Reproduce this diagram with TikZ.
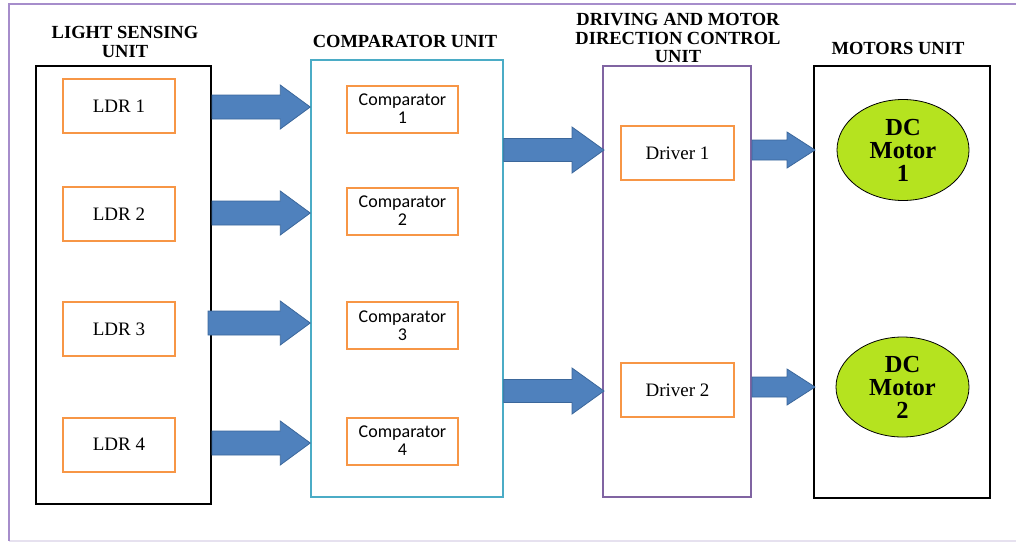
\documentclass[tikz,border=0pt]{standalone}
\usepackage{fontspec}
\setmainfont{Liberation Serif}
\newfontfamily\labelsans{Carlito}
\newfontfamily\labelserif{Liberation Serif}
\usetikzlibrary{calc,shapes.geometric}

\definecolor{frameviolet}{HTML}{A68DCB}
\definecolor{framefaint}{HTML}{E6E1EF}
\definecolor{unitcyan}{HTML}{4BACC6}
\definecolor{unitviolet}{HTML}{8064A2}
\definecolor{itemorange}{HTML}{F79646}
\definecolor{arrowblue}{HTML}{4F81BD}
\definecolor{arrowedge}{HTML}{3B679B}
\definecolor{motorgreen}{HTML}{B5E31F}

% wide block arrow from #1 to the x of #2, at the height of #1
\newcommand{\blockarrow}[5]{%
  \path[fatarrow] let \p1=(#1), \p2=(#2) in
    (\x1,{\y1+#3}) -- ({\x2-#5},{\y1+#3}) -- ({\x2-#5},{\y1+#4}) -- (\x2,\y1)
    -- ({\x2-#5},{\y1-#4}) -- ({\x2-#5},{\y1-#3}) -- (\x1,{\y1-#3}) -- cycle;}

\begin{document}
\begin{tikzpicture}[x=1pt,y=-1pt,
  unitbox/.style={draw, line width=2pt, minimum width=#1, inner sep=0pt},
  itembox/.style={draw=itemorange, line width=2pt, fill=white, inner sep=0pt, align=center},
  title/.style={font=\labelserif\fontsize{18.5}{18.5}\selectfont\bfseries, align=center},
  ldrtext/.style={font=\labelserif\fontsize{19}{19}\selectfont},
  cmptext/.style={font=\labelsans\fontsize{18}{18}\selectfont},
  motor/.style={ellipse, draw=black, line width=0.8pt, fill=motorgreen, inner sep=0pt,
    align=center, font=\labelserif\fontsize{24.5}{23}\selectfont\bfseries},
  fatarrow/.style={fill=arrowblue, draw=arrowedge, line width=0.8pt, line join=miter}]

\useasboundingbox (0,0) rectangle (1016,544);

% outer frame
\draw[framefaint, line width=2pt] (9,541) -- (1030,541);
\draw[frameviolet, line width=2pt] (1030,4) -- (9,4) -- (9,541);

% unit boxes
\node[unitbox=175pt, draw=black, minimum height=438pt] (lsu) at (123.5,285) {};
\node[unitbox=192pt, draw=unitcyan, line width=1.5pt, minimum height=437pt] (cmu) at (407,278.5) {};
\node[unitbox=148pt, draw=unitviolet, minimum height=431pt] (dru) at (677,281.5) {};
\node[unitbox=176pt, draw=black, minimum height=432pt] (mtu) at (902,282) {};

% unit titles
\node[title] (tlsu) at (125,42) {LIGHT SENSING\\UNIT};
\node[title] (tcmu) at (405,41) {COMPARATOR UNIT};
\node[title] (tdru) at (678,38) {DRIVING AND MOTOR\\DIRECTION CONTROL\\UNIT};
\node[title] (tmtu) at (898,48) {MOTORS UNIT};

% sensors
\node[itembox, ldrtext, minimum width=112pt, minimum height=54pt] (ldr1) at (119,106) {LDR 1};
\node[itembox, ldrtext, minimum width=112pt, minimum height=54pt] (ldr2) at (119,214) {LDR 2};
\node[itembox, ldrtext, minimum width=112pt, minimum height=54pt] (ldr3) at (119,329) {LDR 3};
\node[itembox, ldrtext, minimum width=112pt, minimum height=54pt] (ldr4) at (119,444.5) {LDR 4};

% comparators
\node[itembox, cmptext, minimum width=111pt, minimum height=47pt] (cmp1) at (402.5,109) {Comparator\\1};
\node[itembox, cmptext, minimum width=111pt, minimum height=47pt] (cmp2) at (402.5,211) {Comparator\\2};
\node[itembox, cmptext, minimum width=111pt, minimum height=47pt] (cmp3) at (402.5,325.5) {Comparator\\3};
\node[itembox, cmptext, minimum width=111pt, minimum height=47pt] (cmp4) at (402.5,441) {Comparator\\4};

% drivers
\node[itembox, ldrtext, minimum width=113pt, minimum height=54pt] (drv1) at (677.5,153) {Driver 1};
\node[itembox, ldrtext, minimum width=113pt, minimum height=54pt] (drv2) at (677.5,390) {Driver 2};

% motors
\node[motor, minimum width=132pt, minimum height=101pt] (m1) at (903,150) {DC\\Motor\\1};
\node[motor, minimum width=133pt, minimum height=100pt] (m2) at (902.5,387) {DC\\Motor\\2};

% arrow anchor points
\coordinate (a1) at (lsu.east |- 0,107);
\coordinate (a2) at (lsu.east |- 0,213);
\coordinate (a3) at ([xshift=-4pt]lsu.east |- 0,323);
\coordinate (a4) at (lsu.east |- 0,443);
\coordinate (b1) at (cmu.east |- 0,150);
\coordinate (b2) at (cmu.east |- 0,391);
\coordinate (c1) at (dru.east |- 0,150);
\coordinate (c2) at (dru.east |- 0,387);

% sensors -> comparators
\blockarrow{a1}{cmu.west}{12pt}{22pt}{30pt}
\blockarrow{a2}{cmu.west}{12pt}{22pt}{30pt}
\blockarrow{a3}{cmu.west}{12pt}{22pt}{30pt}
\blockarrow{a4}{cmu.west}{12pt}{22pt}{30pt}

% comparators -> drivers
\blockarrow{b1}{[xshift=2pt]dru.west}{11.5pt}{23pt}{32pt}
\blockarrow{b2}{[xshift=2pt]dru.west}{11.5pt}{23pt}{32pt}

% drivers -> motors
\blockarrow{c1}{[xshift=2pt]mtu.west}{10pt}{18pt}{28pt}
\blockarrow{c2}{[xshift=2pt]mtu.west}{10pt}{18pt}{28pt}

\end{tikzpicture}
\end{document}
